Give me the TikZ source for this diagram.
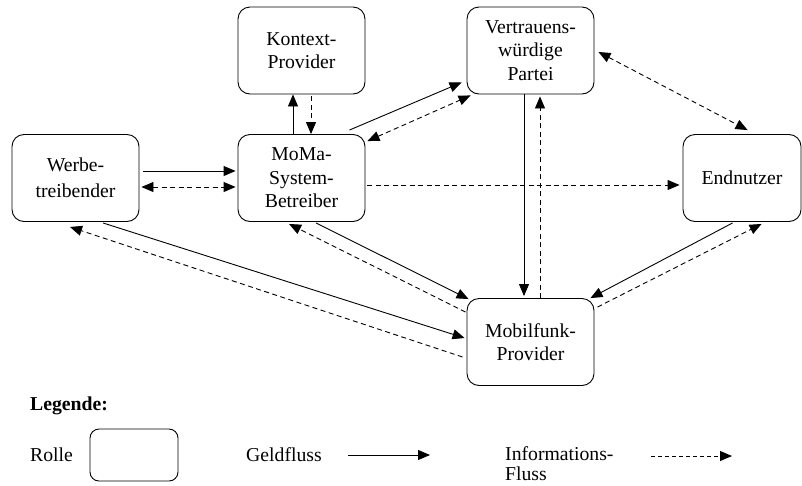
\documentclass[tikz,border=0pt]{standalone}
\usepackage{fontspec}
\setmainfont{Liberation Serif}
\usetikzlibrary{arrows.meta,calc}
\begin{document}
\begin{tikzpicture}[x=1pt,y=-1pt,
  role/.style={draw,line width=0.9pt,rounded corners=12pt,minimum width=127pt,minimum height=87pt,inner sep=0pt,align=center,font=\fontsize{19.7}{23.5}\selectfont},
  tip/.tip={Triangle[length=12pt,width=10pt]},
  money/.style={line width=0.9pt,-tip},
  info/.style={line width=0.9pt,dash pattern=on 5pt off 3.5pt,-tip},
  infob/.style={info,tip-tip},
  lbl/.style={font=\fontsize{19.7}{20}\selectfont,inner sep=0pt,align=left}
]
\useasboundingbox (0,0) rectangle (802,485);

% roles
\node[role] (kontext) at (301.5,50.5) {Kontext-\\Provider};
\node[role] (werbe) at (75.5,178) {Werbe-\\[2pt]treibender};
\node[role] (moma) at (301.5,178) {MoMa-\\System-\\Betreiber};
\node[role] (vp) at (530.5,50.5) {Vertrauens-\\würdige\\Partei};
\node[role,minimum width=118pt] (end) at (742,178) {Endnutzer};
\node[role] (mobil) at (530.5,342) {Mobilfunk-\\Provider};

% MoMa <-> Kontext
\draw[money] ([xshift=-8.5pt]moma.north) -- ([xshift=-8.5pt]kontext.south);
\draw[info] ([xshift=9.5pt,yshift=-2pt]kontext.south) -- ([xshift=9.5pt]moma.north);

% Werbe <-> MoMa
\draw[money,shorten <=4pt,shorten >=2pt] ([yshift=7pt]werbe.east) -- ([yshift=7pt]moma.west);
\draw[infob,shorten <=2pt,shorten >=2pt] ([yshift=-9pt]werbe.east) -- ([yshift=-9pt]moma.west);

% MoMa <-> VP
\draw[money] ($(moma.north east)+(-16,-4)$) -- ($(vp.south west)+(-5,-12)$);
\draw[infob] ($(moma.north east)+(2,7)$) -- ($(vp.south west)+(4,1)$);

% MoMa -> Endnutzer
\draw[info,shorten <=2pt,shorten >=3pt] ([yshift=-7pt]moma.east) -- ([yshift=-7pt]end.west);

% VP <-> Endnutzer
\draw[infob] ($(vp.east)+(4,1.5)$) -- ($(end.north west)+(65,-4)$);

% VP <-> Mobilfunk
\draw[money,shorten >=2pt] ([xshift=-6.5pt]vp.south) -- ([xshift=-6.5pt]mobil.north);
\draw[info,shorten >=2pt] ([xshift=9.5pt]mobil.north) -- ([xshift=9.5pt]vp.south);

% MoMa <-> Mobilfunk
\draw[money] ($(moma.south)+(14.5,1)$) -- ($(mobil.north west)+(2,1)$);
\draw[info] ($(mobil.north west)+(-1,14)$) -- ($(moma.south)+(-12.5,2)$);

% Werbe <-> Mobilfunk
\draw[money] ($(werbe.south)+(27.5,1)$) -- ($(mobil.west)+(-2,-4)$);
\draw[info] ($(mobil.west)+(-4,15)$) -- ($(werbe.south)+(-5.5,5)$);

% Endnutzer <-> Mobilfunk
\draw[money] ($(end.south west)+(50,1)$) -- ($(mobil.north east)+(-4,0)$);
\draw[info] ($(mobil.north east)+(3,9)$) -- ($(end.south west)+(79,2)$);

% legend
\node[lbl,anchor=base west,font=\fontsize{19.7}{20}\selectfont\bfseries] (leg) at (30,410) {Legende:};
\node[lbl,anchor=base west] (rolle) at (30,461) {Rolle};
\node[draw,line width=0.9pt,rounded corners=9pt,minimum width=88pt,minimum height=52pt,inner sep=0pt] (legbox) at (134,455) {};
\node[lbl,anchor=base west] (geld) at (246,461) {Geldfluss};
\coordinate (g1) at (348,455);
\coordinate (g2) at (430,455);
\draw[money] (g1) -- (g2);
\node[lbl,anchor=north west] (inf) at (505,446.5) {Informations-\\Fluss};
\coordinate (i1) at (651,456);
\coordinate (i2) at (732,456);
\draw[info,dash pattern=on 4pt off 3pt] (i1) -- (i2);
\end{tikzpicture}
\end{document}
